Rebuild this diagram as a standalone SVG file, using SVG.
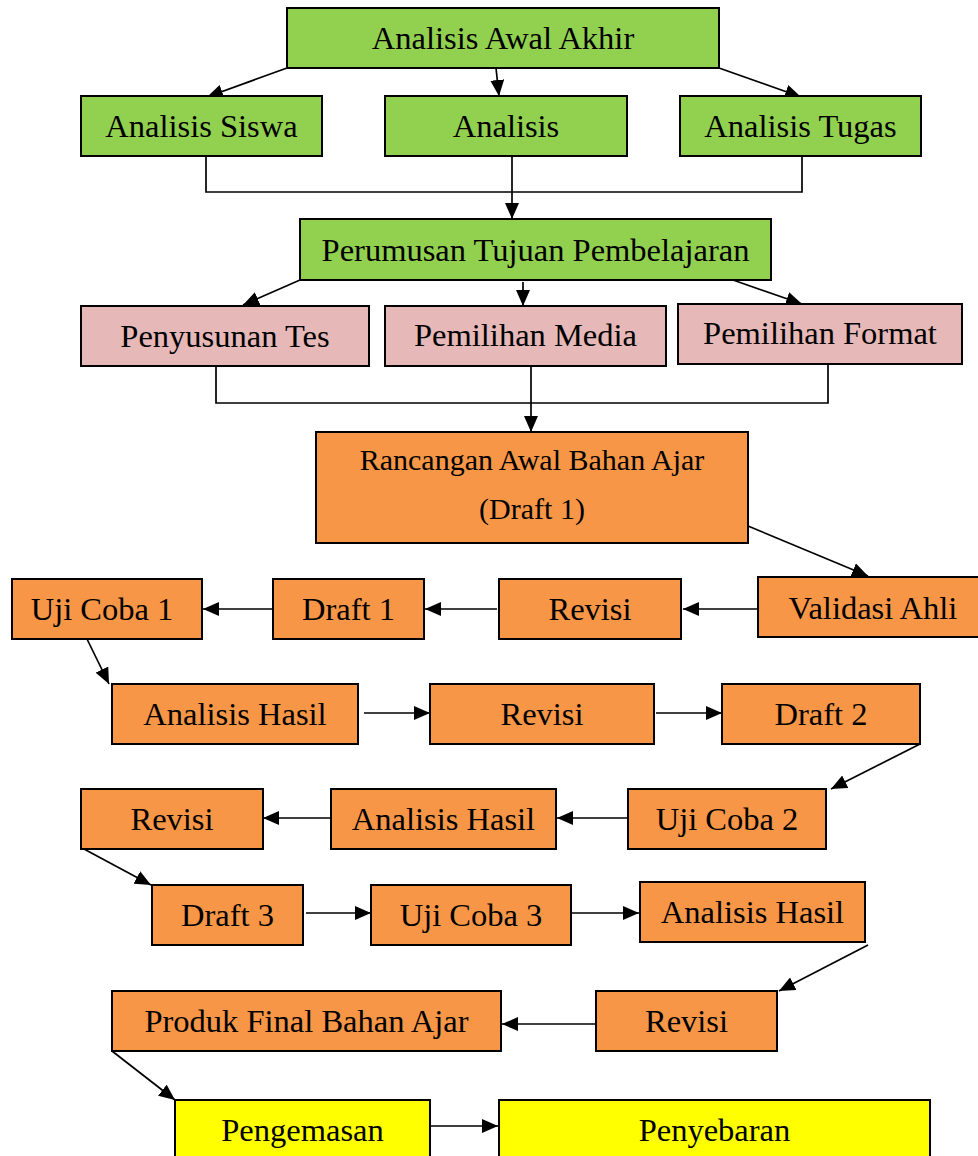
<svg xmlns="http://www.w3.org/2000/svg" width="978" height="1156" viewBox="0 0 978 1156">
<style>
rect{stroke:#000;stroke-width:2}
.g{fill:#92D050}.p{fill:#E6B8B7}.o{fill:#F79646}.y{fill:#FFFF00}
text{font-family:"Liberation Serif","Times New Roman",serif;font-size:32.5px;fill:#000;text-anchor:middle}
.sm{font-size:30px}
#connectors line,#connectors polyline{stroke:#000;stroke-width:1.7;fill:none}
#connectors .a{marker-end:url(#arr)}
</style>
<defs>
<marker id="arr" markerUnits="userSpaceOnUse" markerWidth="16" markerHeight="14" refX="16" refY="7" orient="auto">
<path d="M0,0 L16,7 L0,14 z" fill="#000"/>
</marker>
</defs>
<rect width="978" height="1156" fill="#fff" style="stroke:none"/>
<g id="connectors">
<line class="a" x1="287" y1="68" x2="207" y2="97"/>
<line class="a" x1="496" y1="68" x2="499" y2="96"/>
<line class="a" x1="719" y1="68" x2="801" y2="97"/>
<polyline points="206,156 206,192 802,192 802,156"/>
<line class="a" x1="512" y1="156" x2="512" y2="219"/>
<line class="a" x1="300" y1="280" x2="243" y2="305"/>
<line class="a" x1="523" y1="282" x2="523" y2="306"/>
<line class="a" x1="733" y1="280" x2="802" y2="304"/>
<polyline points="216,366 216,403 828,403 828,364"/>
<line class="a" x1="531" y1="366" x2="531" y2="432"/>
<line class="a" x1="748" y1="526" x2="868" y2="576"/>
<line class="a" x1="758" y1="609" x2="683" y2="609"/>
<line class="a" x1="497" y1="609" x2="425" y2="609"/>
<line class="a" x1="273" y1="609" x2="203" y2="609"/>
<line class="a" x1="87" y1="639" x2="109" y2="684"/>
<line class="a" x1="364" y1="713" x2="430" y2="713"/>
<line class="a" x1="656" y1="713" x2="722" y2="713"/>
<line class="a" x1="920" y1="744" x2="831" y2="789"/>
<line class="a" x1="628" y1="818" x2="557" y2="818"/>
<line class="a" x1="331" y1="818" x2="263" y2="818"/>
<line class="a" x1="84" y1="849" x2="151" y2="885"/>
<line class="a" x1="306" y1="913" x2="371" y2="913"/>
<line class="a" x1="571" y1="913" x2="639" y2="913"/>
<line class="a" x1="868" y1="945" x2="779" y2="991"/>
<line class="a" x1="596" y1="1024" x2="502" y2="1024"/>
<line class="a" x1="112" y1="1051" x2="175" y2="1100"/>
<line class="a" x1="431" y1="1126" x2="498" y2="1126"/>
</g>
<g id="n1"><rect class="g" x="287" y="8" width="432" height="60"/><text x="503" y="49">Analisis Awal Akhir</text></g>
<g id="n2"><rect class="g" x="81" y="96" width="241" height="60"/><text x="201.5" y="137">Analisis Siswa</text></g>
<g id="n3"><rect class="g" x="385" y="96" width="242" height="60"/><text x="506" y="137">Analisis</text></g>
<g id="n4"><rect class="g" x="680" y="96" width="241" height="60"/><text x="800.5" y="137">Analisis Tugas</text></g>
<g id="n5"><rect class="g" x="300" y="219" width="471" height="61"/><text x="535.5" y="261">Perumusan Tujuan Pembelajaran</text></g>
<g id="n6"><rect class="p" x="81" y="306" width="288" height="60"/><text x="225" y="347">Penyusunan Tes</text></g>
<g id="n7"><rect class="p" x="385" y="306" width="281" height="60"/><text x="525.5" y="346">Pemilihan Media</text></g>
<g id="n8"><rect class="p" x="678" y="304" width="284" height="60"/><text x="820" y="344">Pemilihan Format</text></g>
<g id="n9"><rect class="o" x="316" y="432" width="432" height="111"/><text class="sm" x="532" y="470">Rancangan Awal Bahan Ajar</text><text class="sm" x="532" y="519">(Draft 1)</text></g>
<g id="n10"><rect class="o" x="758" y="577" width="230" height="60"/><text x="873" y="619">Validasi Ahli</text></g>
<g id="n11"><rect class="o" x="499" y="579" width="182" height="60"/><text x="590" y="620">Revisi</text></g>
<g id="n12"><rect class="o" x="273" y="579" width="151" height="60"/><text x="348.5" y="620">Draft 1</text></g>
<g id="n13"><rect class="o" x="12" y="579" width="190" height="60"/><text x="102" y="620">Uji Coba 1</text></g>
<g id="n14"><rect class="o" x="112" y="684" width="246" height="60"/><text x="235" y="725">Analisis Hasil</text></g>
<g id="n15"><rect class="o" x="430" y="684" width="224" height="60"/><text x="542" y="725">Revisi</text></g>
<g id="n16"><rect class="o" x="722" y="684" width="198" height="60"/><text x="821" y="725">Draft 2</text></g>
<g id="n17"><rect class="o" x="81" y="789" width="182" height="60"/><text x="172" y="830">Revisi</text></g>
<g id="n18"><rect class="o" x="331" y="789" width="225" height="60"/><text x="443.5" y="830">Analisis Hasil</text></g>
<g id="n19"><rect class="o" x="628" y="789" width="198" height="60"/><text x="727" y="830">Uji Coba 2</text></g>
<g id="n20"><rect class="o" x="152" y="885" width="151" height="60"/><text x="227.5" y="926">Draft 3</text></g>
<g id="n21"><rect class="o" x="371" y="885" width="200" height="60"/><text x="471" y="926">Uji Coba 3</text></g>
<g id="n22"><rect class="o" x="640" y="882" width="225" height="60"/><text x="752.5" y="923">Analisis Hasil</text></g>
<g id="n23"><rect class="o" x="112" y="991" width="389" height="60"/><text x="306.5" y="1032">Produk Final Bahan Ajar</text></g>
<g id="n24"><rect class="o" x="596" y="991" width="181" height="60"/><text x="686.5" y="1032">Revisi</text></g>
<g id="n25"><rect class="y" x="175" y="1100" width="255" height="70"/><text x="302.5" y="1141">Pengemasan</text></g>
<g id="n26"><rect class="y" x="499" y="1100" width="431" height="70"/><text x="714.5" y="1141">Penyebaran</text></g>
</svg>
